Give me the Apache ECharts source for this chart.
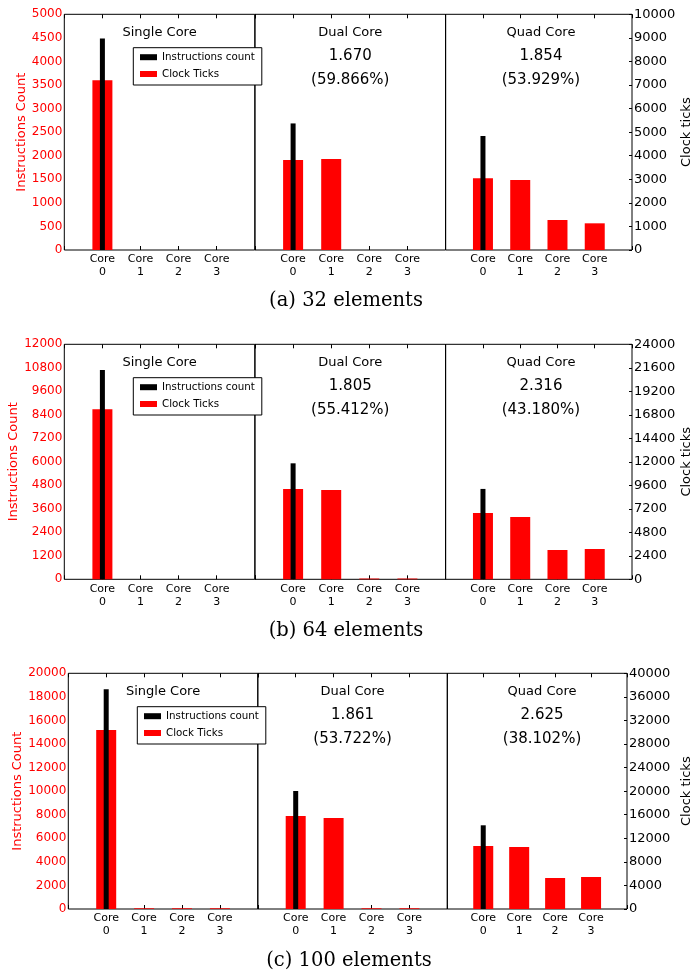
<!DOCTYPE html>
<html><head><meta charset="utf-8">
<script src="https://cdn.jsdelivr.net/npm/echarts@6/dist/echarts.min.js"></script>
<style>html,body{margin:0;padding:0;background:#fff}#c{width:694px;height:975px}</style>
</head><body><div id="c"></div>
<script>
// ---------- data ----------
const coreLabels = ['0', '1', '2', '3'];
const panelTitles = ['Single Core', 'Dual Core', 'Quad Core'];
const captions = ['(a) 32 elements', '(b) 64 elements', '(c) 100 elements'];
const seriesNames = ['Instructions count', 'Clock Ticks'];

// (a) 32 elements  (red bars, left axis)
const clockA1 = [3600, 0, 0, 0];
const clockA2 = [1910, 1930, 0, 0];
const clockA4 = [1520, 1485, 636, 566];
// black bars (core 0, right axis): single, dual, quad
const instrA = [8970, 5370, 4837];
const speedA = ['1.670', '1.854'];
const pctA = ['(59.866%)', '(53.929%)'];
const maxA = 5000;

// (b) 64 elements
const clockB1 = [8680, 0, 0, 0];
const clockB2 = [4610, 4560, 40, 40];
const clockB4 = [3386, 3181, 1496, 1547];
const instrB = [21375, 11845, 9230];
const speedB = ['1.805', '2.316'];
const pctB = ['(55.412%)', '(43.180%)'];
const maxB = 12000;

// (c) 100 elements
const clockC1 = [15190, 60, 60, 60];
const clockC2 = [7890, 7720, 60, 60];
const clockC4 = [5350, 5260, 2630, 2715];
const instrC = [37280, 20030, 14205];
const speedC = ['1.861', '2.625'];
const pctC = ['(53.722%)', '(38.102%)'];
const maxC = 20000;

// ---------- layout ----------
const FONT = 'DejaVu Sans';
const figs = [
  {top: 14.3, height: 235.7, lefts: [64.3, 255, 445.7], width: 190.5, max: maxA,
   clock: [clockA1, clockA2, clockA4], instr: instrA, speed: speedA, pct: pctA,
   cap: captions[0], capX: 346, capY: 300.5, gapL: 35, gapR: 48},
  {top: 344.3, height: 235, lefts: [64.3, 255, 445.7], width: 190.5, max: maxB,
   clock: [clockB1, clockB2, clockB4], instr: instrB, speed: speedB, pct: pctB,
   cap: captions[1], capX: 346, capY: 631, gapL: 40, gapR: 48},
  {top: 673.3, height: 235.7, lefts: [68.3, 257.8, 447.3], width: 189.5, max: maxC,
   clock: [clockC1, clockC2, clockC4], instr: instrC, speed: speedC, pct: pctC,
   cap: captions[2], capX: 349, capY: 961, gapL: 40, gapR: 53}
];

const grid = [], xAxis = [], yAxis = [], series = [], legend = [], graphic = [];
figs.forEach((f, fi) => {
  f.lefts.forEach((lx, p) => {
    const g = grid.length;
    grid.push({left: lx, top: f.top, width: f.width, height: f.height,
      show: true, borderColor: '#000', borderWidth: 1, backgroundColor: 'transparent'});
    // bottom x axis (red bars)
    xAxis.push({gridIndex: g, type: 'value', min: -1, max: 4, interval: 1, position: 'bottom',
      axisLine: {show: false, onZero: false}, splitLine: {show: false},
      axisTick: {show: true, inside: true, length: 4, lineStyle: {color: '#000'},
        interval: (i, v) => v >= 0 && v <= 3},
      axisLabel: {show: true, color: '#000', fontSize: 11, lineHeight: 13, fontFamily: FONT, margin: 3,
        formatter: v => (v >= 0 && v <= 3) ? 'Core\n' + coreLabels[v] : ''}});
    // top x axis (black bars)
    xAxis.push({gridIndex: g, type: 'value', min: -1, max: 4, interval: 1, position: 'top',
      axisLine: {show: false, onZero: false}, splitLine: {show: false},
      axisTick: {show: true, inside: true, length: 4, lineStyle: {color: '#000'}},
      axisLabel: {show: false}});
    // left y
    yAxis.push({gridIndex: g, type: 'value', min: 0, max: f.max, interval: f.max / 10, position: 'left',
      axisLine: {show: false, onZero: false}, axisTick: {show: false}, splitLine: {show: false},
      axisLabel: {show: p === 0, color: '#ff0000', fontSize: 12, fontFamily: FONT, margin: 2,
        formatter: v => String(v)},
      name: p === 0 ? 'Instructions Count' : '', nameLocation: 'middle', nameRotate: 90, nameGap: f.gapL,
      nameTextStyle: {color: '#ff0000', fontSize: 13, fontFamily: FONT}});
    // right y
    yAxis.push({gridIndex: g, type: 'value', min: 0, max: f.max * 2, interval: f.max / 5, position: 'right',
      axisLine: {show: false, onZero: false}, splitLine: {show: false},
      axisTick: {show: p === 2, inside: true, length: 3, lineStyle: {color: '#000'}},
      axisLabel: {show: p === 2, color: '#000', fontSize: 13, fontFamily: FONT, margin: 2,
        formatter: v => String(v)},
      name: p === 2 ? 'Clock ticks' : '', nameLocation: 'middle', nameRotate: 90, nameGap: f.gapR,
      nameTextStyle: {color: '#000', fontSize: 13, fontFamily: FONT}});
    series.push({type: 'bar', name: seriesNames[1], xAxisIndex: 2 * g, yAxisIndex: 2 * g,
      data: f.clock[p].map((v, k) => [k, v]), barWidth: 20, itemStyle: {color: '#ff0000'}, z: 2});
    series.push({type: 'bar', name: seriesNames[0], xAxisIndex: 2 * g + 1, yAxisIndex: 2 * g + 1,
      data: [[0, f.instr[p]]], barWidth: 5, itemStyle: {color: '#000000'}, z: 3});
    const cx = lx + f.width / 2;
    graphic.push({type: 'text', x: cx, y: f.top + 18.7, z: 10,
      style: {text: panelTitles[p], fontSize: 13, fontFamily: FONT, fill: '#000',
        textAlign: 'center', textVerticalAlign: 'middle', verticalAlign: 'middle'}});
    if (p > 0) {
      graphic.push({type: 'text', x: cx, y: f.top + 42.2, z: 10,
        style: {text: f.speed[p - 1], fontSize: 15, fontFamily: FONT, fill: '#000',
          textAlign: 'center', textVerticalAlign: 'middle', verticalAlign: 'middle'}});
      graphic.push({type: 'text', x: cx, y: f.top + 65.7, z: 10,
        style: {text: f.pct[p - 1], fontSize: 15, fontFamily: FONT, fill: '#000',
          textAlign: 'center', textVerticalAlign: 'middle', verticalAlign: 'middle'}});
    }
  });
  legend.push({data: [seriesNames[0], seriesNames[1]], orient: 'vertical',
    left: f.lefts[0] + 69, top: f.top + 33.4, icon: 'rect', itemWidth: 17, itemHeight: 6,
    itemGap: 4.8, padding: [3.5, 7, 5, 6.7], backgroundColor: '#fff', borderColor: '#000', borderWidth: 1,
    borderRadius: 0, z: 20, selectedMode: false,
    textStyle: {fontSize: 10.3, fontFamily: FONT, color: '#000', lineHeight: 12}});
  graphic.push({type: 'text', x: f.capX, y: f.capY, z: 10,
    style: {text: f.cap, fontSize: 19.5, fontFamily: 'DejaVu Serif', fill: '#000',
      textAlign: 'center', textVerticalAlign: 'middle', verticalAlign: 'middle'}});
});

const chart = echarts.init(document.getElementById('c'));
chart.setOption({animation: false, backgroundColor: '#fff', grid, xAxis, yAxis, series, legend, graphic});
</script></body></html>
